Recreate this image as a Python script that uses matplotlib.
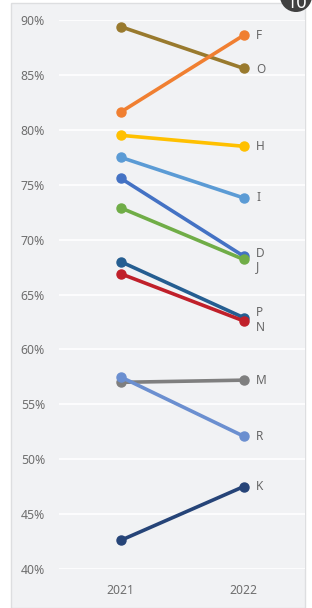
import matplotlib.pyplot as plt
from matplotlib.patches import Rectangle, Circle

plt.rcParams['font.family'] = ['Noto Sans', 'DejaVu Sans']

# slope chart data (percent)
years = ['2021', '2022']
names = ['O', 'F', 'H', 'I', 'D', 'J', 'P', 'N', 'M', 'R', 'K']
v2021 = [89.4, 81.6, 79.5, 77.5, 75.6, 72.9, 68.0, 66.9, 57.0, 57.5, 42.6]
v2022 = [85.6, 88.6, 78.5, 73.8, 68.5, 68.2, 62.9, 62.6, 57.2, 52.1, 47.5]
colors = ['#997A2E', '#F07F31', '#FFC000', '#5B9BD5', '#4472C4', '#70AD47',
          '#255E91', '#C0202A', '#7F7F7F', '#6B8FD0', '#264478']
yticks = [40, 45, 50, 55, 60, 65, 70, 75, 80, 85, 90]

# small vertical nudges (pixels) for crowded end labels
nudge = {'D': 2, 'J': -5, 'P': 4, 'N': -5, 'O': -1, 'F': 0}

W, H = 312, 608
fig = plt.figure(figsize=(W / 100, H / 100), dpi=100)
fig.patch.set_facecolor('white')

# light panel behind the chart
fig.patches.append(Rectangle((11 / W, 0), (305 - 11) / W, (605 - 0) / H,
                             transform=fig.transFigure, facecolor='#F1F2F4',
                             edgecolor='#DDDEE0', linewidth=1, zorder=-5))

ax = fig.add_axes([59 / W, (H - 569) / H, 246 / W, 549 / H])
ax.set_facecolor('#F1F2F4')
for s in ax.spines.values():
    s.set_visible(False)

ax.set_xlim(-0.5, 1.5)
ax.set_ylim(40, 90)
ax.set_yticks(yticks)
ax.set_yticklabels([f'{t}%' for t in yticks])
ax.set_xticks([0, 1])
ax.set_xticklabels(years)
ax.tick_params(length=0, labelsize=8.8, labelcolor='#6E6E6E')
ax.tick_params(axis='y', pad=10)
ax.tick_params(axis='x', pad=11)
ax.grid(axis='y', color='white', linewidth=1.2)
ax.set_axisbelow(True)

for name, a, b, c in zip(names, v2021, v2022, colors):
    ax.plot([0, 1], [a, b], color=c, linewidth=2.6, marker='o',
            markersize=6.5, solid_capstyle='round', zorder=3)
    ax.annotate(name, (1, b), xytext=(9, nudge.get(name, 0)),
                textcoords='offset points', va='center', ha='left',
                fontsize=8.5, color='#666666')

# corner badge (partly off the top edge)
fig.patches.append(Circle((2.96, (H + 4) / 100), 0.16,
                          transform=fig.dpi_scale_trans, facecolor='#404040',
                          edgecolor='none', zorder=5))
fig.text(297 / W, 1 - 3 / H, '10', color='white', fontsize=13,
         fontweight='bold', ha='center', va='center', zorder=6)

fig.savefig('out.png', dpi=100)
